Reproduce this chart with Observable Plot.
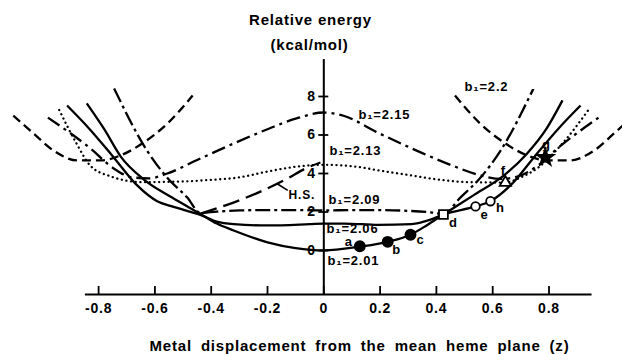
<!DOCTYPE html>
<html><head><meta charset="utf-8">
<script src="https://cdn.jsdelivr.net/npm/d3@7"></script>
<script src="https://cdn.jsdelivr.net/npm/@observablehq/plot@0.6"></script>
<style>
html,body{margin:0;padding:0;background:#fff;}
#chart svg{display:block;}
#chart svg text{font-family:"Liberation Sans",Arial,sans-serif;font-weight:bold;letter-spacing:0.8px;}
</style></head><body><div id="chart"></div>
<script>
// ---- data: [z, relative energy kcal/mol] ----
const curve201 = [[-0.842,7.64],[-0.78,6.3],[-0.72,4.85],[-0.64,3.7],[-0.539,2.75],[-0.438,1.9],[-0.38,1.4],[-0.32,1.04],[-0.2,0.42],[-0.1,0.12],[0,0],[0.128,0.2],[0.227,0.45],[0.308,0.82],[0.365,1.3],[0.425,1.87],[0.53,2.85],[0.64,3.9],[0.72,5.0],[0.79,6.3],[0.848,7.8]];
const curve206 = [[-0.912,7.53],[-0.834,6.34],[-0.752,4.94],[-0.663,3.38],[-0.592,2.56],[-0.539,2.29],[-0.438,1.85],[-0.38,1.5],[-0.32,1.37],[-0.2,1.3],[-0.05,1.37],[0,1.4],[0.073,1.4],[0.194,1.33],[0.312,1.37],[0.379,1.6],[0.425,1.87],[0.539,2.29],[0.592,2.56],[0.663,3.38],[0.752,4.94],[0.834,6.34],[0.912,7.53]];
const curve209 = [[-0.745,8.42],[-0.628,5.19],[-0.557,3.79],[-0.485,2.75],[-0.438,1.95],[-0.38,2.02],[-0.3,2.08],[-0.2,2.1],[-0.1,2.1],[0,2.08],[0.1,2.1],[0.2,2.1],[0.3,2.06],[0.38,1.98],[0.425,1.9],[0.485,2.75],[0.557,3.79],[0.628,5.19],[0.745,8.42]];
const curve213 = [[-0.94,7.3],[-0.88,5.6],[-0.829,4.4],[-0.757,3.85],[-0.645,3.55],[-0.51,3.58],[-0.41,3.66],[-0.3,3.8],[-0.2,4.1],[-0.1,4.35],[0,4.45],[0.1,4.38],[0.2,4.15],[0.31,3.9],[0.41,3.68],[0.51,3.55],[0.645,3.53],[0.70,3.8],[0.762,4.31],[0.85,5.6],[0.94,7.3]];
const curve215 = [[-0.98,6.9],[-0.829,5.3],[-0.75,4.3],[-0.68,3.8],[-0.62,3.75],[-0.556,4.0],[-0.45,4.7],[-0.32,5.56],[-0.2,6.3],[-0.1,6.85],[0,7.17],[0.07,7.0],[0.195,6.1],[0.35,5.06],[0.45,4.45],[0.557,3.9],[0.63,3.72],[0.69,3.85],[0.76,4.4],[0.83,5.3],[0.976,6.9]];
const curve22Left = [[-1.103,7.01],[-1.031,6.08],[-0.96,5.19],[-0.875,4.68],[-0.793,4.68],[-0.722,4.94],[-0.64,5.61],[-0.555,6.6],[-0.466,8.05]];
const curve22Right = [[0.466,8.05],[0.555,6.6],[0.64,5.61],[0.722,4.94],[0.793,4.68],[0.875,4.68],[0.96,5.19],[1.031,6.08],[1.10,7.0]];
const curveHS = [[-0.438,1.92],[-0.321,2.49],[-0.225,3.06],[-0.129,3.74],[-0.065,4.26],[-0.012,4.57]];

const filledCircles = [["a",0.128,0.22],["b",0.227,0.45],["c",0.308,0.82]];
const openSquares = [["d",0.425,1.87]];
const openCircles = [["e",0.539,2.29],["h",0.592,2.56]];
const openTriangles = [["f",0.645,3.53]];
const filledStars = [["g",0.787,4.83]];

const curveLabels = [["b₁=2.2",0.5,8.52],["b₁=2.15",0.123,7.06],["b₁=2.13",0.02,5.19],["b₁=2.09",0.017,2.65],["b₁=2.06",0.01,1.14],["b₁=2.01",0.013,-0.55]];
const hsLabel = [["H.S.",-0.125,2.86]];
const hsLeader = [[-0.128,3.12,-0.167,3.48]];

const xTicks = [-0.8,-0.6,-0.4,-0.2,0,0.2,0.4,0.6,0.8];
const xTickLabels = ["-0.8","-0.6","-0.4","-0.2","0","0.2","0.4","0.6","0.8"];
const yTicks = [0,2,4,6,8];
const yTickLabels = ["0","2","4","6","8"];
const xAxisExtent = [-0.847, 0.953];
const yAxisExtent = [-2.286, 9.92];
const titleLines = ["Relative energy","(kcal/mol)"];
const xTitle = "Metal displacement from the mean heme plane (z)";

// ---- styles ----
const curves = [
  {data: curve201, dash: null},
  {data: curve206, dash: null},
  {data: curve209, dash: "15,4,3,4"},
  {data: curve213, dash: "0.1,4.6", cap: "round"},
  {data: curve215, dash: "14,5,3,5"},
  {data: curve22Left, dash: "9,5"},
  {data: curve22Right, dash: "9,5"},
  {data: curveHS, dash: "17,7"}
];
const labelOffset = {a:[-11,-4], b:[9,8], c:[10,5], d:[10,8], e:[9,8], h:[10,7], f:[-2,-12], g:[1,-13]};
const ptLabels = [...filledCircles, ...openSquares, ...openCircles, ...openTriangles, ...filledStars];

const X = d => d[1], Y = d => d[2];
const marks = [];
for (const c of curves) {
  marks.push(Plot.line(c.data, {x: d => d[0], y: d => d[1], curve: "monotone-x", stroke: "black", strokeWidth: 2.3,
    strokeDasharray: c.dash || undefined, strokeLinecap: c.cap || "butt"}));
}
// axes
marks.push(Plot.ruleY([yAxisExtent[0]], {x1: xAxisExtent[0], x2: xAxisExtent[1], stroke: "black", strokeWidth: 2}));
marks.push(Plot.ruleX([0], {y1: yAxisExtent[0], y2: yAxisExtent[1], stroke: "black", strokeWidth: 2}));
marks.push(Plot.ruleX(xTicks, {x: d => d, y1: yAxisExtent[0], y2: yAxisExtent[0], insetTop: -8, insetBottom: 0, stroke: "black", strokeWidth: 1.8}));
marks.push(Plot.ruleY(yTicks, {y: d => d, x1: 0, x2: 0, insetLeft: -5, insetRight: -5, stroke: "black", strokeWidth: 1.8}));
marks.push(Plot.text(xTicks, {x: d => d, y: yAxisExtent[0], text: (d, i) => xTickLabels[i], dy: 14, fontSize: 14}));
marks.push(Plot.text(yTicks, {x: 0, y: d => d, text: (d, i) => yTickLabels[i], dx: -8, textAnchor: "end", fontSize: 14}));
// markers
marks.push(Plot.dot(filledCircles, {x: X, y: Y, r: 5.2, fill: "black", stroke: "black"}));
marks.push(Plot.dot(openSquares, {x: X, y: Y, symbol: "square", r: 5, fill: "white", stroke: "black", strokeWidth: 1.8}));
marks.push(Plot.dot(openCircles, {x: X, y: Y, r: 4.3, fill: "white", stroke: "black", strokeWidth: 1.8}));
marks.push(Plot.dot(openTriangles, {x: X, y: Y, symbol: "triangle", r: 4.2, fill: "white", stroke: "black", strokeWidth: 1.8}));
marks.push(Plot.dot(filledStars, {x: X, y: Y, symbol: "star", r: 5.5, fill: "black", stroke: "black"}));
for (const p of ptLabels) {
  const o = labelOffset[p[0]];
  marks.push(Plot.text([p], {x: X, y: Y, text: d => d[0], dx: o[0], dy: o[1], fontSize: 13}));
}
// curve labels
marks.push(Plot.text(curveLabels, {x: d => d[1], y: d => d[2], text: d => d[0], textAnchor: "start", fontSize: 13}));
marks.push(Plot.text(hsLabel, {x: d => d[1], y: d => d[2], text: d => d[0], textAnchor: "start", fontSize: 12}));
marks.push(Plot.link(hsLeader, {x1: d => d[0], y1: d => d[1], x2: d => d[2], y2: d => d[3], stroke: "black", strokeWidth: 1.6}));
// titles
marks.push(Plot.text([titleLines[0]], {frameAnchor: "top-left", dx: 310, dy: 20, textAnchor: "middle", lineAnchor: "middle", fontSize: 15}));
marks.push(Plot.text([titleLines[1]], {frameAnchor: "top-left", dx: 309, dy: 45, textAnchor: "middle", lineAnchor: "middle", fontSize: 15}));
marks.push(Plot.text([xTitle], {frameAnchor: "top-left", dx: 359, dy: 346, textAnchor: "middle", lineAnchor: "middle", fontSize: 15}));

const chart = Plot.plot({
  width: 622, height: 354, margin: 0,
  x: {domain: [-1.1485, 1.0611], axis: null},
  y: {domain: [-5.403, 12.987], axis: null},
  style: {background: "white", color: "black"},
  marks
});
document.getElementById("chart").appendChild(chart);
d3.select(chart).selectAll("text").filter(function(){ return this.textContent === xTitle; })
  .style("word-spacing", "4px");
</script></body></html>
